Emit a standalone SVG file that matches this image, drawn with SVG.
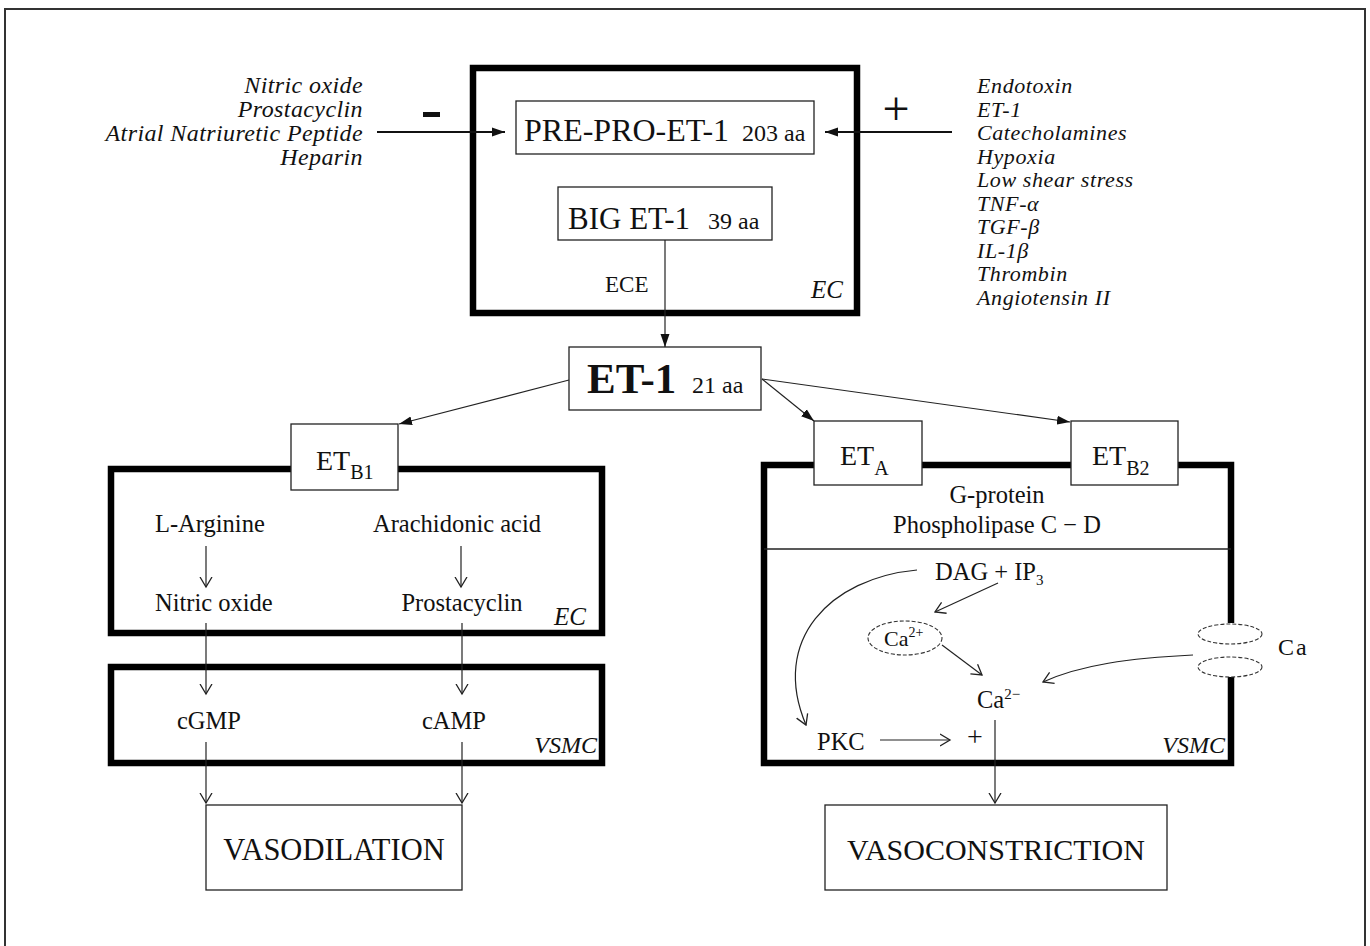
<svg xmlns="http://www.w3.org/2000/svg" width="1370" height="946" viewBox="0 0 1370 946">
  <style>
    text { font-family: "Liberation Serif", "Times New Roman", serif; fill: #111; }
    .it { font-style: italic; }
    .lbl { font-size: 24px; }
    .path { font-size: 24.5px; }
    .box { fill: #fff; stroke: #222; stroke-width: 1.3; }
    .cell { fill: none; stroke: #000; stroke-width: 6.5; }
    .ln { fill: none; stroke: #222; stroke-width: 1.2; }
    .lnb { fill: none; stroke: #111; stroke-width: 1.8; }
    .dash { fill: none; stroke: #333; stroke-width: 1.1; stroke-dasharray: 4 2; }
  </style>
  <defs>
    <marker id="solid" markerUnits="userSpaceOnUse" markerWidth="14" markerHeight="10" refX="13" refY="5" orient="auto">
      <path d="M0,0.5 L13,5 L0,9.5 z" fill="#111"/>
    </marker>
    <marker id="open" markerUnits="userSpaceOnUse" markerWidth="12" markerHeight="14" refX="10.5" refY="7" orient="auto">
      <path d="M0.5,1 L10.5,7 L0.5,13" fill="none" stroke="#222" stroke-width="1.3"/>
    </marker>
  </defs>

  <rect width="1370" height="946" fill="#fff"/>
  <!-- outer frame -->
  <rect x="5" y="9" width="1360" height="960" fill="none" stroke="#333" stroke-width="2"/>

  <!-- inhibitors -->
  <g id="inhibitors" class="it lbl" text-anchor="end" letter-spacing="0.4">
    <text x="363" y="93">Nitric oxide</text>
    <text x="363" y="117">Prostacyclin</text>
    <text x="363" y="141">Atrial Natriuretic Peptide</text>
    <text x="363" y="165">Heparin</text>
  </g>
  <g id="minus-sign"><rect x="423" y="112" width="17" height="5" fill="#111"/></g>

  <!-- stimulators -->
  <g id="stimulators" class="it" font-size="22" letter-spacing="0.6">
    <text x="977" y="93">Endotoxin</text>
    <text x="977" y="116.5">ET-1</text>
    <text x="977" y="140">Catecholamines</text>
    <text x="977" y="163.5">Hypoxia</text>
    <text x="977" y="187">Low shear stress</text>
    <text x="977" y="210.5">TNF-α</text>
    <text x="977" y="234">TGF-β</text>
    <text x="977" y="257.5">IL-1β</text>
    <text x="977" y="281">Thrombin</text>
    <text x="977" y="305">Angiotensin II</text>
  </g>
  <g id="plus-sign"><text x="896" y="125" font-size="48" text-anchor="middle">+</text></g>

  <!-- endothelial cell (top) -->
  <g id="ec-top">
    <rect class="cell" x="473" y="68" width="384" height="245"/>
    <text class="it" x="843" y="298" font-size="25" text-anchor="end">EC</text>
  </g>
  <g id="prepro">
    <rect class="box" x="516" y="101" width="298" height="53"/>
    <text x="524" y="141" font-size="32">PRE-PRO-ET-1<tspan x="742" font-size="24">203 aa</tspan></text>
  </g>
  <g id="bigET">
    <rect class="box" x="558" y="187" width="214" height="53"/>
    <text x="568" y="229" font-size="31">BIG ET-1<tspan x="708" font-size="24">39 aa</tspan></text>
  </g>
  <g id="ece-label"><text x="605" y="292" font-size="23">ECE</text></g>

  <!-- ET-1 -->
  <g id="et1">
    <rect class="box" x="569" y="347" width="192" height="63"/>
    <text x="587" y="393" font-size="43" font-weight="bold">ET-1<tspan x="692" font-size="24" font-weight="normal">21 aa</tspan></text>
  </g>

  <!-- endothelial cell with ETB1 receptor -->
  <g id="ec-left">
    <rect class="cell" x="111" y="469" width="491" height="164"/>
    <text class="it" x="586" y="625" font-size="25" text-anchor="end">EC</text>
    <text class="path" x="155" y="532">L-Arginine</text>
    <text class="path" x="457" y="532" text-anchor="middle">Arachidonic acid</text>
    <text class="path" x="155" y="611">Nitric oxide</text>
    <text class="path" x="462" y="611" text-anchor="middle">Prostacyclin</text>
  </g>
  <g id="etb1">
    <rect class="box" x="291" y="424" width="107" height="66"/>
    <text x="316" y="470" font-size="28">ET<tspan font-size="20" dy="9">B1</tspan></text>
  </g>

  <!-- smooth muscle cell (left) -->
  <g id="vsmc-left">
    <rect class="cell" x="111" y="667" width="491" height="96"/>
    <text class="it" x="597" y="753" font-size="24" text-anchor="end">VSMC</text>
    <text class="path" x="209" y="729" text-anchor="middle">cGMP</text>
    <text class="path" x="454" y="729" text-anchor="middle">cAMP</text>
  </g>

  <g id="vasodilation">
    <rect class="box" x="206" y="805" width="256" height="85"/>
    <text x="334" y="860" font-size="30.5" text-anchor="middle">VASODILATION</text>
  </g>

  <!-- smooth muscle cell (right) -->
  <g id="vsmc-right">
    <path class="cell" d="M1231,623 V465 H764 V763 H1231 V677"/>
    <line x1="764" y1="549" x2="1231" y2="549" stroke="#222" stroke-width="1.3"/>
    <text class="it" x="1225" y="753" font-size="24" text-anchor="end">VSMC</text>
    <text class="path" x="997" y="503" text-anchor="middle" font-size="25">G-protein</text>
    <text class="path" x="997" y="533" text-anchor="middle">Phospholipase C − D</text>
    <text class="path" x="935" y="580" font-size="24">DAG + IP<tspan font-size="15" dy="5">3</tspan></text>
    <text class="path" x="817" y="750" font-size="23">PKC</text>
    <text x="975" y="746" font-size="28" text-anchor="middle">+</text>
    <text class="path" x="977" y="708" font-size="23">Ca<tspan font-size="15" dy="-9">2−</tspan></text>
  </g>
  <g id="ca-store">
    <ellipse class="dash" cx="905" cy="638" rx="37" ry="17"/>
    <text x="884" y="646" font-size="22">Ca<tspan font-size="14" dy="-9">2+</tspan></text>
  </g>
  <g id="ca-channel">
    <ellipse class="dash" cx="1230" cy="634" rx="32" ry="10"/>
    <ellipse class="dash" cx="1230" cy="667" rx="32" ry="10"/>
    <text x="1278" y="655" font-size="24" letter-spacing="2">Ca</text>
  </g>
  <g id="eta">
    <rect class="box" x="814" y="421" width="108" height="64"/>
    <text x="840" y="465" font-size="28">ET<tspan font-size="20" dy="10">A</tspan></text>
  </g>
  <g id="etb2">
    <rect class="box" x="1071" y="421" width="107" height="64"/>
    <text x="1092" y="465" font-size="28">ET<tspan font-size="20" dy="10">B2</tspan></text>
  </g>

  <g id="vasoconstriction">
    <rect class="box" x="825" y="805" width="342" height="85"/>
    <text x="996" y="860" font-size="30" text-anchor="middle">VASOCONSTRICTION</text>
  </g>

  <!-- connectors -->
  <g id="connectors">
    <line class="lnb" x1="377" y1="132" x2="505" y2="132" marker-end="url(#solid)"/>
    <line class="lnb" x1="952" y1="132" x2="825" y2="132" marker-end="url(#solid)"/>
    <line class="ln" x1="665" y1="240" x2="665" y2="347" marker-end="url(#solid)"/>
    <line class="ln" x1="569" y1="380" x2="399" y2="424" marker-end="url(#solid)"/>
    <line class="ln" x1="762" y1="379" x2="814" y2="421" marker-end="url(#solid)"/>
    <line class="ln" x1="762" y1="379" x2="1070" y2="422" marker-end="url(#solid)"/>

    <line class="ln" x1="206" y1="546" x2="206" y2="587" marker-end="url(#open)"/>
    <line class="ln" x1="461" y1="546" x2="461" y2="587" marker-end="url(#open)" stroke="#555"/>
    <line class="ln" x1="206" y1="623" x2="206" y2="694" marker-end="url(#open)"/>
    <line class="ln" x1="462" y1="623" x2="462" y2="694" marker-end="url(#open)" stroke="#555"/>
    <line class="ln" x1="206" y1="742" x2="206" y2="803" marker-end="url(#open)"/>
    <line class="ln" x1="462" y1="742" x2="462" y2="803" marker-end="url(#open)" stroke="#555"/>

    <path class="ln" d="M917,570 C830,578 770,640 806,725" marker-end="url(#open)"/>
    <line class="ln" x1="998" y1="583" x2="935" y2="612" marker-end="url(#open)"/>
    <line class="ln" x1="942" y1="645" x2="982" y2="675" marker-end="url(#open)"/>
    <path class="ln" d="M1193,655 C1130,658 1080,665 1043,682" marker-end="url(#open)"/>
    <line class="ln" x1="880" y1="740" x2="950" y2="740" marker-end="url(#open)"/>
    <line class="ln" x1="995" y1="720" x2="995" y2="803" marker-end="url(#open)"/>
  </g>
</svg>
